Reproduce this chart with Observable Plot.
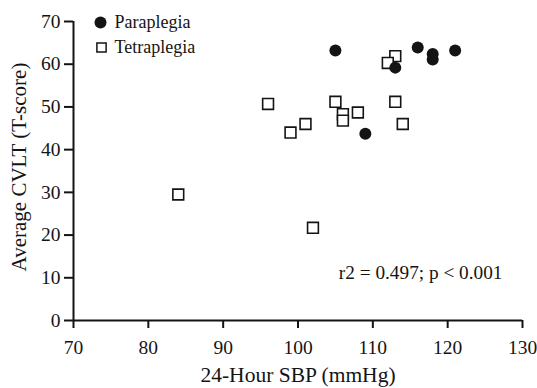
<!DOCTYPE html>
<html>
<head>
<meta charset="utf-8">
<script src="https://cdn.jsdelivr.net/npm/d3@7"></script>
<script src="https://cdn.jsdelivr.net/npm/@observablehq/plot@0.6"></script>
<style>
  html, body { margin: 0; padding: 0; background: #fff; }
  svg { display: block; }
</style>
</head>
<body>
<div id="chart"></div>
<script>
// Paraplegia (filled circles)
const paraSBP = [105, 116, 118, 118, 121, 113, 109];
const paraCVLT = [63.2, 63.9, 62.4, 61.1, 63.2, 59.2, 43.7];
// Tetraplegia (open squares)
const tetraSBP = [113, 112, 96, 105, 106, 106, 108, 113, 114, 101, 99, 84, 102];
const tetraCVLT = [61.9, 60.3, 50.7, 51.2, 48.3, 46.8, 48.7, 51.2, 46.0, 46.0, 44.0, 29.5, 21.7];

const xTicks = [70, 80, 90, 100, 110, 120, 130];
const yTicks = [0, 10, 20, 30, 40, 50, 60, 70];
const legendLabels = ["Paraplegia", "Tetraplegia"];
const annotation = "r2 = 0.497; p < 0.001";
const xTitle = "24-Hour SBP (mmHg)";
const yTitle = "Average CVLT (T-score)";

const para = paraSBP.map((x, i) => ({x, y: paraCVLT[i]}));
const tetra = tetraSBP.map((x, i) => ({x, y: tetraCVLT[i]}));

const ink = "#141414";
const font = "'Liberation Serif', 'Times New Roman', serif";

const chart = Plot.plot({
  width: 537,
  height: 388,
  marginLeft: 73,
  marginRight: 15,
  marginTop: 21,
  marginBottom: 68,
  style: {fontFamily: font, fontSize: "19px", color: ink, background: "#fff"},
  x: {domain: [70, 130]},
  y: {domain: [0, 70]},
  marks: [
    Plot.axisX({ticks: xTicks, tickSize: 8, tickPadding: 12, strokeWidth: 2, fontSize: 19.5, fontFamily: font, label: null, stroke: ink}),
    Plot.axisY({ticks: yTicks, tickSize: 9, tickPadding: 4, strokeWidth: 2, fontSize: 19.5, fontFamily: font, label: null, stroke: ink}),
    Plot.ruleY([0], {stroke: ink, strokeWidth: 2}),
    Plot.ruleX([70], {stroke: ink, strokeWidth: 2}),
    Plot.dot(tetra, {x: "x", y: "y", symbol: "square", r: 6.1, fill: "#fff", stroke: ink, strokeWidth: 1.6}),
    Plot.dot(para, {x: "x", y: "y", symbol: "circle", r: 6, fill: ink, stroke: "none"}),
    // legend
    Plot.dot([legendLabels[0]], {frameAnchor: "top-left", dx: 27, dy: 1, r: 6, fill: ink, symbol: "circle"}),
    Plot.dot([legendLabels[1]], {frameAnchor: "top-left", dx: 28, dy: 26, r: 5.2, fill: "#fff", stroke: ink, strokeWidth: 1.5, symbol: "square"}),
    Plot.text([legendLabels[0]], {text: d => d, frameAnchor: "top-left", dx: 41, dy: 1, textAnchor: "start", lineAnchor: "middle", fontSize: 18, fill: ink}),
    Plot.text([legendLabels[1]], {text: d => d, frameAnchor: "top-left", dx: 41, dy: 26, textAnchor: "start", lineAnchor: "middle", fontSize: 18, fill: ink}),
    // annotation
    Plot.text([annotation], {text: d => d, frameAnchor: "bottom-right", dx: -20, dy: -48, textAnchor: "end", lineAnchor: "middle", fontSize: 19.3, fill: ink}),
    // axis titles
    Plot.text([xTitle], {text: d => d, frameAnchor: "bottom", dy: 55, textAnchor: "middle", lineAnchor: "middle", fontSize: 21.5, fill: ink}),
    Plot.text([yTitle], {text: d => d, frameAnchor: "left", dx: -54, dy: -4, rotate: -90, textAnchor: "middle", lineAnchor: "middle", fontSize: 21, fill: ink})
  ]
});
document.getElementById("chart").appendChild(chart);
</script>
</body>
</html>
